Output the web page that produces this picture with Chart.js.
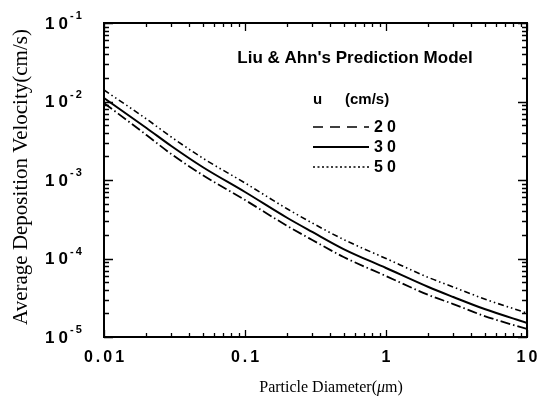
<!DOCTYPE html>
<html>
<head>
<meta charset="utf-8">
<script src="https://cdn.jsdelivr.net/npm/chart.js@4.4.0/dist/chart.umd.min.js"></script>
<style>
    html, body { margin: 0; padding: 0; background: #fff; }
    #wrap { width: 549px; height: 403px; }
</style>
</head>
<body>
<div id="wrap"><canvas id="deposition-chart" width="549" height="403"></canvas></div>
<script>
// Particle diameter (um) and average deposition velocity (cm/s) for each air speed
const diameters = [0.01, 0.02, 0.03, 0.05, 0.1, 0.2, 0.3, 0.5, 1, 2, 3, 5, 10];
const vel20 = [9.57e-3, 3.74e-3, 2.14e-3, 1.158e-3, 5.56e-4, 2.59e-4, 1.72e-4, 1.045e-4, 5.98e-5, 3.43e-5, 2.63e-5, 1.85e-5, 1.264e-5];
const vel30 = [1.108e-2, 4.6e-3, 2.71e-3, 1.464e-3, 7.03e-4, 3.28e-4, 2.18e-4, 1.32e-4, 7.57e-5, 4.33e-5, 3.23e-5, 2.27e-5, 1.51e-5];
const vel50 = [1.401e-2, 5.99e-3, 3.53e-3, 1.907e-3, 9.16e-4, 4.27e-4, 2.83e-4, 1.746e-4, 1.0e-4, 5.73e-5, 4.33e-5, 3.05e-5, 2.02e-5];

const xTickValues = [0.01, 0.1, 1, 10];
const xTickLabels = ['0.01', '0.1', '1', '10'];
const yTickValues = [1e-1, 1e-2, 1e-3, 1e-4, 1e-5];
const yTickExponents = ['-1', '-2', '-3', '-4', '-5'];
const speedLabels = ['20', '30', '50'];

const SANS = '"Liberation Sans", Arial, sans-serif';
const SERIF = '"Liberation Serif", "Times New Roman", serif';

function points(values) {
    return diameters.map((d, i) => ({ x: d, y: values[i] }));
}

// draws text one character at a time with extra spacing, like the old plotter labels
function drawSpaced(ctx, text, x, y, spacing, align) {
    const chars = text.split('');
    const widths = chars.map(c => ctx.measureText(c).width);
    const total = widths.reduce((s, w) => s + w, 0) + spacing * (chars.length - 1);
    let cx = x;
    if (align === 'center') cx = x - total / 2;
    if (align === 'right') cx = x - total;
    ctx.textAlign = 'left';
    chars.forEach((c, i) => {
        ctx.fillText(c, cx, y);
        cx += widths[i] + spacing;
    });
    return total;
}

function minorValues(min, max) {
    const out = [];
    for (let d = min; d < max * 0.999; d *= 10) {
        for (let k = 2; k <= 9; k++) out.push(k * d);
    }
    return out;
}

const frameAndLabels = {
    id: 'frameAndLabels',
    afterDatasetsDraw(chart) {
        const { ctx, chartArea: a, scales: { x, y } } = chart;
        ctx.save();
        ctx.strokeStyle = '#000';
        ctx.fillStyle = '#000';

        // frame
        ctx.lineWidth = 2;
        ctx.strokeRect(a.left, a.top, a.right - a.left, a.bottom - a.top);

        // inward ticks on all four sides
        ctx.lineWidth = 1.3;
        ctx.beginPath();
        const yMinor = minorValues(1e-5, 1e-1);
        yMinor.forEach(v => {
            const py = Math.round(y.getPixelForValue(v)) + 0.5;
            ctx.moveTo(a.left, py); ctx.lineTo(a.left + 5, py);
            ctx.moveTo(a.right, py); ctx.lineTo(a.right - 5, py);
        });
        yTickValues.forEach(v => {
            const py = Math.round(y.getPixelForValue(v)) + 0.5;
            ctx.moveTo(a.left, py); ctx.lineTo(a.left + 9, py);
            ctx.moveTo(a.right, py); ctx.lineTo(a.right - 9, py);
        });
        const xMinor = minorValues(0.01, 10);
        xMinor.forEach(v => {
            const px = Math.round(x.getPixelForValue(v)) + 0.5;
            ctx.moveTo(px, a.top); ctx.lineTo(px, a.top + 4);
            ctx.moveTo(px, a.bottom); ctx.lineTo(px, a.bottom - 4);
        });
        xTickValues.forEach(v => {
            const px = Math.round(x.getPixelForValue(v)) + 0.5;
            ctx.moveTo(px, a.top); ctx.lineTo(px, a.top + 8);
            ctx.moveTo(px, a.bottom); ctx.lineTo(px, a.bottom - 7);
        });
        ctx.stroke();

        // y tick labels: 10 with a raised exponent
        ctx.textBaseline = 'middle';
        yTickValues.forEach((v, i) => {
            const py = y.getPixelForValue(v);
            ctx.font = 'bold 17px ' + SANS;
            drawSpaced(ctx, '10', a.left - 36, py + 1, 4, 'right');
            ctx.font = 'bold 11px ' + SANS;
            drawSpaced(ctx, yTickExponents[i], a.left - 34, py - 7, 2, 'left');
        });

        // x tick labels
        ctx.font = 'bold 16px ' + SANS;
        xTickValues.forEach((v, i) => {
            drawSpaced(ctx, xTickLabels[i], x.getPixelForValue(v), 358, 3, 'center');
        });

        // axis titles
        ctx.font = '21px ' + SERIF;
        ctx.textAlign = 'center';
        ctx.save();
        ctx.translate(21, 177);
        ctx.rotate(-Math.PI / 2);
        ctx.fillText('Average Deposition Velocity(cm/s)', 0, 0);
        ctx.restore();

        const parts = [['Particle Diameter(', ''], ['\u03bc', 'italic '], ['m)', '']];
        let totalW = 0;
        parts.forEach(p => { ctx.font = p[1] + '16px ' + SERIF; totalW += ctx.measureText(p[0]).width; });
        let tx = 331 - totalW / 2;
        ctx.textAlign = 'left';
        parts.forEach(p => {
            ctx.font = p[1] + '16px ' + SERIF;
            ctx.fillText(p[0], tx, 388);
            tx += ctx.measureText(p[0]).width;
        });

        // model name and legend
        ctx.font = 'bold 17px ' + SANS;
        ctx.textAlign = 'center';
        ctx.fillText("Liu & Ahn's Prediction Model", 355, 58);

        ctx.font = 'bold 15px ' + SANS;
        ctx.textAlign = 'left';
        ctx.fillText('u', 313, 100);
        ctx.fillText('(cm/s)', 345, 100);

        const legendDash = [[10, 7], [], [2, 2.5]];
        const legendRows = [127, 147, 167];
        speedLabels.forEach((lab, i) => {
            ctx.lineWidth = i === 1 ? 2 : 1.6;
            ctx.setLineDash(legendDash[i]);
            ctx.beginPath();
            ctx.moveTo(313, legendRows[i]);
            ctx.lineTo(369, legendRows[i]);
            ctx.stroke();
            ctx.setLineDash([]);
            ctx.font = 'bold 16px ' + SANS;
            drawSpaced(ctx, lab, 374, legendRows[i] + 1, 4, 'left');
        });
        ctx.restore();
    }
};

new Chart(document.getElementById('deposition-chart'), {
    type: 'line',
    data: {
        datasets: [
            {
                label: '20',
                data: points(vel20),
                borderColor: '#000',
                borderWidth: 1.8,
                borderDash: [10, 3, 1.5, 3],
                pointRadius: 0,
                cubicInterpolationMode: 'monotone'
            },
            {
                label: '30',
                data: points(vel30),
                borderColor: '#000',
                borderWidth: 2,
                pointRadius: 0,
                cubicInterpolationMode: 'monotone'
            },
            {
                label: '50',
                data: points(vel50),
                borderColor: '#000',
                borderWidth: 1.6,
                borderDash: [6, 3, 1.5, 3, 1.5, 3],
                pointRadius: 0,
                cubicInterpolationMode: 'monotone'
            }
        ]
    },
    options: {
        responsive: false,
        animation: false,
        layout: { padding: { left: 104, top: 23, right: 22, bottom: 66 } },
        plugins: {
            legend: { display: false },
            tooltip: { enabled: false }
        },
        scales: {
            x: { type: 'logarithmic', min: 0.01, max: 10, display: false },
            y: { type: 'logarithmic', min: 1e-5, max: 1e-1, display: false }
        }
    },
    plugins: [frameAndLabels]
});
</script>
</body>
</html>
